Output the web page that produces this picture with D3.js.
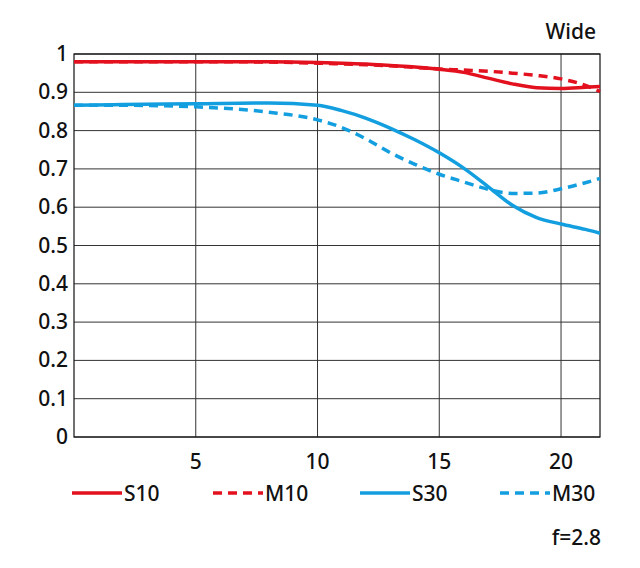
<!DOCTYPE html><html><head><meta charset="utf-8"><script src="https://cdn.jsdelivr.net/npm/d3@7"></script>
<style>body{margin:0;background:#fff}text{font-family:"Noto Sans","Open Sans",sans-serif;fill:#111;font-weight:500}</style></head><body><svg id="c" width="640" height="568"></svg><script>
const xs=[0,2,5,8,10,11,12,13,14,15,16,17,18,19,20,21,21.6];
const S10=[0.98,0.98,0.98,0.98,0.978,0.976,0.974,0.97,0.966,0.96,0.952,0.937,0.922,0.912,0.91,0.913,0.915];
const M10=[0.98,0.98,0.98,0.979,0.976,0.974,0.972,0.969,0.965,0.961,0.958,0.955,0.95,0.944,0.935,0.918,0.902];
const S30=[0.866,0.868,0.87,0.872,0.866,0.852,0.832,0.806,0.776,0.742,0.702,0.654,0.605,0.573,0.556,0.542,0.532];
const M30=[0.866,0.866,0.862,0.848,0.828,0.808,0.778,0.742,0.712,0.686,0.666,0.647,0.636,0.637,0.648,0.664,0.675];
const xTicks=[5,10,15,20];
const yTicks=[0,0.1,0.2,0.3,0.4,0.5,0.6,0.7,0.8,0.9,1];
const series=[{n:"S10",v:S10,c:"#e3101e",d:null},{n:"M10",v:M10,c:"#e3101e",d:"9,6"},{n:"S30",v:S30,c:"#139fdf",d:null},{n:"M30",v:M30,c:"#139fdf",d:"9,6"}];
const svg=d3.select("#c");
const x=d3.scaleLinear().domain([0,21.6]).range([74,600]);
const y=d3.scaleLinear().domain([0,1]).range([437,54]);
const g=svg.append("g");
xTicks.forEach(t=>g.append("line").attr("x1",x(t)).attr("x2",x(t)).attr("y1",y(0)).attr("y2",y(1)).attr("stroke","#333").attr("stroke-width",1));
yTicks.forEach(t=>g.append("line").attr("x1",x(0)).attr("x2",x(21.6)).attr("y1",y(t)).attr("y2",y(t)).attr("stroke","#333").attr("stroke-width",1));
g.append("rect").attr("x",x(0)).attr("y",y(1)).attr("width",x(21.6)-x(0)).attr("height",y(0)-y(1)).attr("fill","none").attr("stroke","#111").attr("stroke-width",1.2);
yTicks.forEach(t=>svg.append("text").attr("x",68).attr("y",y(t)+7).attr("text-anchor","end").attr("font-size",21).text(t===0?"0":t===1?"1":d3.format(".1f")(t)));
xTicks.forEach(t=>svg.append("text").attr("x",x(t)).attr("y",469).attr("text-anchor","middle").attr("font-size",21).text(t));
const line=d3.line().x((d,i)=>x(xs[i])).y(d=>y(d)).curve(d3.curveMonotoneX);
series.forEach(s=>svg.append("path").attr("d",line(s.v)).attr("fill","none").attr("stroke",s.c).attr("stroke-width",3.5).attr("stroke-dasharray",s.d));
const lx=[72,213,360,500];
series.forEach((s,i)=>{svg.append("line").attr("x1",lx[i]).attr("x2",lx[i]+50).attr("y1",493).attr("y2",493).attr("stroke",s.c).attr("stroke-width",3.5).attr("stroke-dasharray",s.d);
svg.append("text").attr("x",lx[i]+52).attr("y",501).attr("font-size",21).text(s.n);});
svg.append("text").attr("x",596).attr("y",39).attr("text-anchor","end").attr("font-size",21).text("Wide");
svg.append("text").attr("x",601).attr("y",545).attr("text-anchor","end").attr("font-size",21).text("f=2.8");
</script></body></html>
